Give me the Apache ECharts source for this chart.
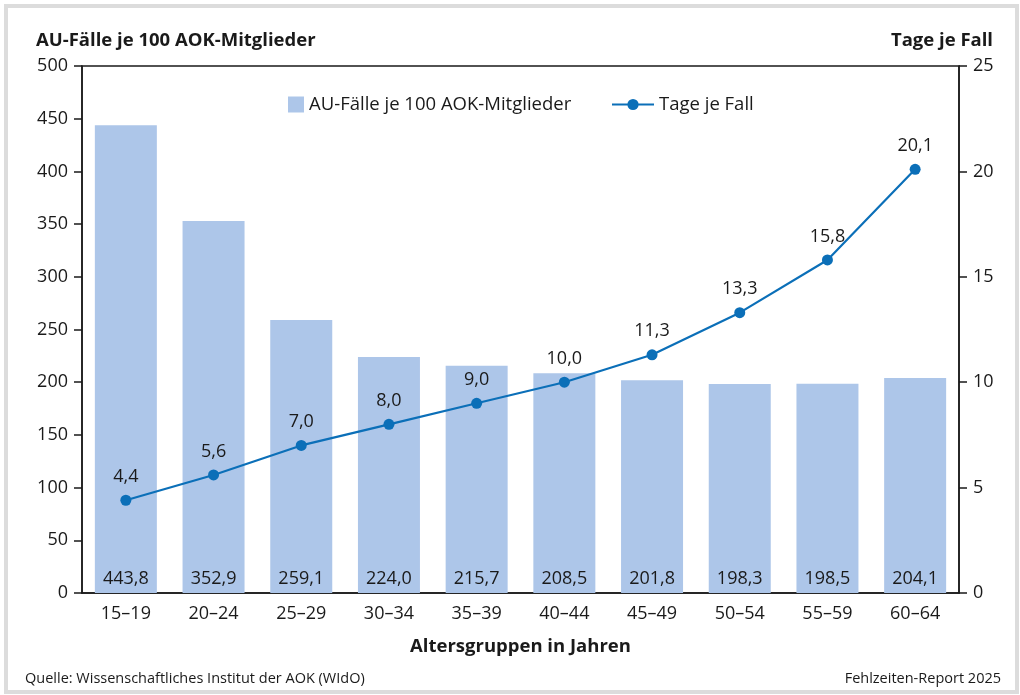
<!DOCTYPE html>
<html lang="de">
<head>
    <meta charset="utf-8">
    <title>AU-Fälle und Tage je Fall nach Alter</title>
    <style>
        html, body { margin: 0; padding: 0; background: #fff; }
        #frame {
            position: absolute; left: 4px; top: 4px;
            width: 1007px; height: 682px;
            border: 4px solid #dcdcdc;
        }
        #chart { position: absolute; left: 0; top: 0; width: 1020px; height: 695px; }
    </style>
</head>
<body>
    <div id="frame"></div>
    <div id="chart"></div>

<script src="https://cdn.jsdelivr.net/npm/echarts@6/dist/echarts.min.js"></script>
<script>
    // Altersgruppen
    var ageGroups = ['15–19', '20–24', '25–29', '30–34', '35–39', '40–44', '45–49', '50–54', '55–59', '60–64'];
    // AU-Fälle je 100 AOK-Mitglieder
    var auCases = [443.8, 352.9, 259.1, 224.0, 215.7, 208.5, 201.8, 198.3, 198.5, 204.1];
    // Tage je Fall
    var daysPerCase = [4.4, 5.6, 7.0, 8.0, 9.0, 10.0, 11.3, 13.3, 15.8, 20.1];

    var FONT = '"Open Sans", "Noto Sans", sans-serif';
    var TXT = '#1a1a1a';
    var BAR = '#adc6e9';
    var LINE = '#0b6fb8';

    function de(v) {
        return v.toFixed(1).replace('.', ',');
    }

    var myChart = echarts.init(document.getElementById('chart'));

    var option = {
        textStyle: { fontFamily: FONT, color: TXT },
        animation: false,
        title: [
            {
                text: 'AU-Fälle je 100 AOK-Mitglieder',
                left: 31, top: 26,
                textStyle: { fontFamily: FONT, fontSize: 18.5, fontWeight: 'bold', color: TXT }
            },
            {
                text: 'Tage je Fall',
                right: 22, top: 26,
                textStyle: { fontFamily: FONT, fontSize: 18.5, fontWeight: 'bold', color: TXT }
            },
            {
                text: 'Quelle: Wissenschaftliches Institut der AOK (WIdO)',
                left: 20, top: 666,
                textStyle: { fontFamily: FONT, fontSize: 14.5, fontWeight: 'normal', color: TXT }
            },
            {
                text: 'Fehlzeiten-Report 2025',
                right: 14, top: 666,
                textStyle: { fontFamily: FONT, fontSize: 14.5, fontWeight: 'normal', color: TXT }
            }
        ],
        legend: [
            {
                top: 90,
                left: 283,
                itemWidth: 16,
                itemHeight: 16,
                itemGap: 10,
                textStyle: { fontFamily: FONT, fontSize: 18.5, color: TXT },
                data: [{ name: 'AU-Fälle je 100 AOK-Mitglieder', icon: 'rect' }]
            },
            {
                top: 90,
                left: 606,
                itemWidth: 42,
                itemHeight: 14,
                itemGap: 10,
                textStyle: { fontFamily: FONT, fontSize: 18.5, color: TXT },
                data: [{ name: 'Tage je Fall' }]
            }
        ],
        grid: { left: 82, right: 61, top: 66, bottom: 102, show: true, borderColor: '#1a1a1a', borderWidth: 1.5 },
        xAxis: {
            type: 'category',
            data: ageGroups,
            name: 'Altersgruppen in Jahren',
            nameLocation: 'middle',
            nameGap: 44,
            nameTextStyle: { fontFamily: FONT, fontSize: 18.5, fontWeight: 'bold', color: TXT },
            axisLine: { lineStyle: { color: '#1a1a1a', width: 1.5 } },
            axisTick: { show: false },
            axisLabel: { fontFamily: FONT, fontSize: 18, color: TXT, margin: 12 }
        },
        yAxis: [
            {
                type: 'value',
                min: 0, max: 500, interval: 50,
                axisLine: { show: true, lineStyle: { color: '#1a1a1a', width: 1.5 } },
                axisTick: { show: true, length: 8, lineStyle: { color: '#1a1a1a', width: 1.5 } },
                splitLine: { show: false },
                axisLabel: { fontFamily: FONT, fontSize: 18, color: TXT, margin: 14 }
            },
            {
                type: 'value',
                min: 0, max: 25, interval: 5,
                axisLine: { show: true, lineStyle: { color: '#1a1a1a', width: 1.5 } },
                axisTick: { show: true, length: 8, lineStyle: { color: '#1a1a1a', width: 1.5 } },
                splitLine: { show: false },
                axisLabel: { fontFamily: FONT, fontSize: 18, color: TXT, margin: 14 }
            }
        ],
        series: [
            {
                name: 'AU-Fälle je 100 AOK-Mitglieder',
                type: 'bar',
                data: auCases,
                barWidth: 62,
                itemStyle: { color: BAR },
                label: {
                    show: true,
                    position: 'insideBottom',
                    distance: 5,
                    fontFamily: FONT, fontSize: 18, color: TXT,
                    formatter: function (p) { return de(p.value); }
                }
            },
            {
                name: 'Tage je Fall',
                type: 'line',
                yAxisIndex: 1,
                data: daysPerCase,
                symbol: 'circle',
                symbolSize: 11,
                lineStyle: { color: LINE, width: 2.2 },
                itemStyle: { color: LINE },
                label: {
                    show: true,
                    position: 'top',
                    distance: 9,
                    fontFamily: FONT, fontSize: 18, color: TXT,
                    formatter: function (p) { return de(p.value); }
                }
            }
        ]
    };

    myChart.setOption(option);
</script>
</body>
</html>
